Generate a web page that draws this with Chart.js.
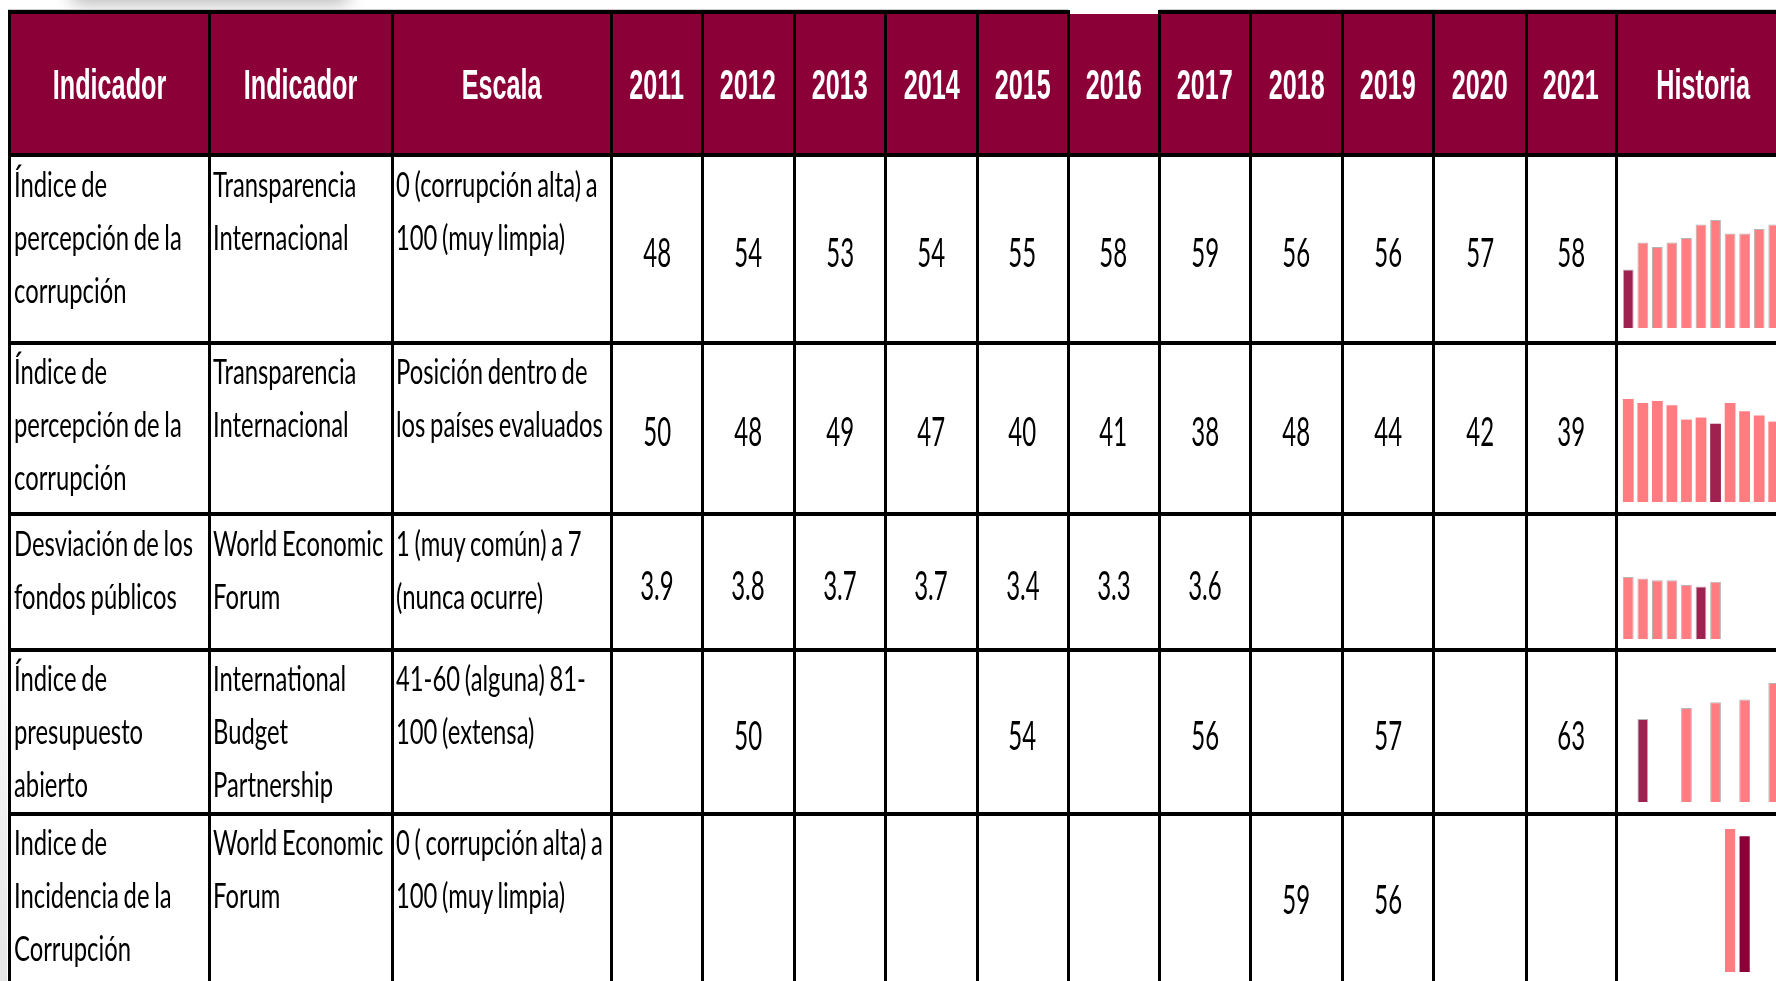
<!DOCTYPE html>
<html>
<head>
<meta charset="utf-8">
<script src="https://cdn.jsdelivr.net/npm/chart.js@4.4.0/dist/chart.umd.min.js"></script>
<style>
html, body { margin: 0; padding: 0; width: 1776px; height: 981px; overflow: hidden; background: #fff; }
#sheet { position: relative; width: 1776px; height: 981px; overflow: hidden; }
.abs { position: absolute; }
.line { position: absolute; background: #000; }
.cell { position: absolute; display: flex; align-items: center; justify-content: center; }
.cell span { display: inline-block; white-space: nowrap; transform: scaleX(0.6); transform-origin: 50% 50%; }
.hd span { font-family: "Liberation Sans", Arial, sans-serif; font-weight: bold; font-size: 42px; color: #fff; padding-top: 4px; }
.num span { font-family: Lato, sans-serif; font-size: 40px; color: #000; padding-top: 6px; }
.txt { position: absolute; white-space: pre; font-family: Lato, sans-serif; font-size: 34px; line-height: 53px;
       word-spacing: -2px; color: #000; transform: scaleX(0.7); transform-origin: 0 0; }
.spark { position: absolute; }
</style>
</head>
<body>
<div id="sheet"></div>
<script>
// ---- data ----
const years = ['2011', '2012', '2013', '2014', '2015', '2016', '2017', '2018', '2019', '2020', '2021'];
const headers = ['Indicador', 'Indicador', 'Escala'];
const lastHeader = 'Historia';

const indicators = [
  'Índice de\npercepción de la\ncorrupción',
  'Índice de\npercepción de la\ncorrupción',
  'Desviación de los\nfondos públicos',
  'Índice de\npresupuesto\nabierto',
  'Indice de\nIncidencia de la\nCorrupción'
];
const sources = [
  'Transparencia\nInternacional',
  'Transparencia\nInternacional',
  'World Economic\nForum',
  'International\nBudget\nPartnership',
  'World Economic\nForum'
];
const scales = [
  '0 (corrupción alta) a\n100 (muy limpia)',
  'Posición dentro de\nlos países evaluados',
  '1 (muy común) a 7\n(nunca ocurre)',
  '41-60 (alguna) 81-\n100 (extensa)',
  '0 ( corrupción alta) a\n100 (muy limpia)'
];

const percepcion  = [48, 54, 53, 54, 55, 58, 59, 56, 56, 57, 58];
const posicion    = [50, 48, 49, 47, 40, 41, 38, 48, 44, 42, 39];
const desviacion  = [3.9, 3.8, 3.7, 3.7, 3.4, 3.3, 3.6, null, null, null, null];
const presupuesto = [null, 50, null, null, 54, null, 56, null, 57, null, 63];
const incidencia  = [null, null, null, null, null, null, null, 59, 56, null, null];
const series = [percepcion, posicion, desviacion, presupuesto, incidencia];
const decimals = [0, 0, 1, 0, 0];

// ---- layout ----
const colEdges = [9.5, 209, 392, 611.5, 702, 794, 885.5, 977, 1068, 1159, 1250.5, 1342, 1433.5, 1526, 1616, 1790];
const rowEdges = [11.5, 155, 342.7, 514, 649.7, 813.7, 978];
const MAROON = '#8b0037';
const PINK = '#ff7c80';
const gapCol = 8; // 2016 header has no top border

// sparkline boxes: plot top/bottom in px and value range
const sparkBoxes = [
  { top: 220, bottom: 327.5, min: 35, max: 59, dark: '#9e2150', edge: 'rgba(120,120,120,0.55)', bar: 0.74 },
  { top: 399, bottom: 502, min: 0, max: 50, dark: '#9e2150', edge: null, bar: 0.74 },
  { top: 576.5, bottom: 638, min: 0, max: 3.9, dark: '#9e2150', edge: 'rgba(120,120,120,0.55)', bar: 0.74 },
  { top: 682.5, bottom: 801.5, min: 20, max: 63, dark: '#9e2150', edge: 'rgba(120,120,120,0.55)', bar: 0.74 },
  { top: 829, bottom: 972, min: 0, max: 59, dark: '#8b0037', edge: null, bar: 0.7 }
];
const sparkLeft = 1621.4, sparkWidth = 160.3;

const sheet = document.getElementById('sheet');
function box(cls, x, y, w, h, css) {
  const d = document.createElement('div');
  d.className = cls;
  d.style.left = x + 'px'; d.style.top = y + 'px';
  d.style.width = w + 'px'; d.style.height = h + 'px';
  if (css) Object.assign(d.style, css);
  sheet.appendChild(d);
  return d;
}

// soft shadow and faint top rule from the slide
box('abs', 70, -22, 280, 26, { background: '#b8b8b8', filter: 'blur(9px)', borderRadius: '12px' });
box('abs', 0, 600, 7, 381, { background: 'linear-gradient(#fff, #e4e4e4)' });
box('abs', 8, 9, colEdges[gapCol] - 8, 1, { background: '#cfcfcf' });
box('abs', colEdges[gapCol + 1], 9, 1776 - colEdges[gapCol + 1], 1, { background: '#cfcfcf' });

// header band
box('abs', colEdges[0], 14, 1776 - colEdges[0], rowEdges[1] - 14, { background: MAROON });
const headLabels = headers.concat(years, [lastHeader]);
headLabels.forEach(function (t, i) {
  const c = box('cell hd', colEdges[i], rowEdges[0], colEdges[i + 1] - colEdges[i], rowEdges[1] - rowEdges[0]);
  const s = document.createElement('span'); s.textContent = t; c.appendChild(s);
});

// text columns
[indicators, sources, scales].forEach(function (col, ci) {
  col.forEach(function (t, ri) {
    const d = box('txt', colEdges[ci] + 4, rowEdges[ri + 1] + 1.5, 600, 180);
    d.style.width = 'auto'; d.style.height = 'auto';
    d.textContent = t;
  });
});

// value cells
series.forEach(function (vals, ri) {
  vals.forEach(function (v, yi) {
    if (v === null) return;
    const c = box('cell num', colEdges[3 + yi], rowEdges[ri + 1], colEdges[4 + yi] - colEdges[3 + yi], rowEdges[ri + 2] - rowEdges[ri + 1]);
    const s = document.createElement('span'); s.textContent = v.toFixed(decimals[ri]); c.appendChild(s);
  });
});

// grid lines
colEdges.slice(0, -1).forEach(function (x) {
  box('line', x - 1.5, 10, 3, 981);
});
box('line', 8, 10, colEdges[gapCol] - 8 + 1.5, 4);
box('line', colEdges[gapCol + 1] - 1.5, 10, 1776, 4);
rowEdges.slice(1, -1).forEach(function (y) {
  box('line', 8, y - 2, 1776, 4);
});

// sparklines
function createSparkChart(ri, values) {
  const b = sparkBoxes[ri];
  const h = b.bottom - b.top;
  const cv = document.createElement('canvas');
  cv.width = Math.round(sparkWidth); cv.height = Math.round(h);
  const holder = box('spark', sparkLeft, b.top, Math.round(sparkWidth), Math.round(h));
  holder.appendChild(cv);
  const low = Math.min.apply(null, values.filter(function (v) { return v !== null; }));
  new Chart(cv.getContext('2d'), {
    type: 'bar',
    data: {
      labels: years,
      datasets: [{
        data: values,
        backgroundColor: values.map(function (v) { return v === low ? b.dark : PINK; }),
        borderColor: b.edge || 'rgba(0,0,0,0)',
        borderWidth: b.edge ? 1 : 0,
        base: b.min,
        barPercentage: b.bar,
        categoryPercentage: 1
      }]
    },
    options: {
      responsive: false,
      animation: false,
      events: [],
      layout: { padding: 0 },
      plugins: { legend: { display: false }, tooltip: { enabled: false } },
      scales: {
        x: { display: false },
        y: { display: false, min: b.min, max: b.max }
      }
    }
  });
}
series.forEach(function (vals, ri) { createSparkChart(ri, vals); });
</script>
</body>
</html>
